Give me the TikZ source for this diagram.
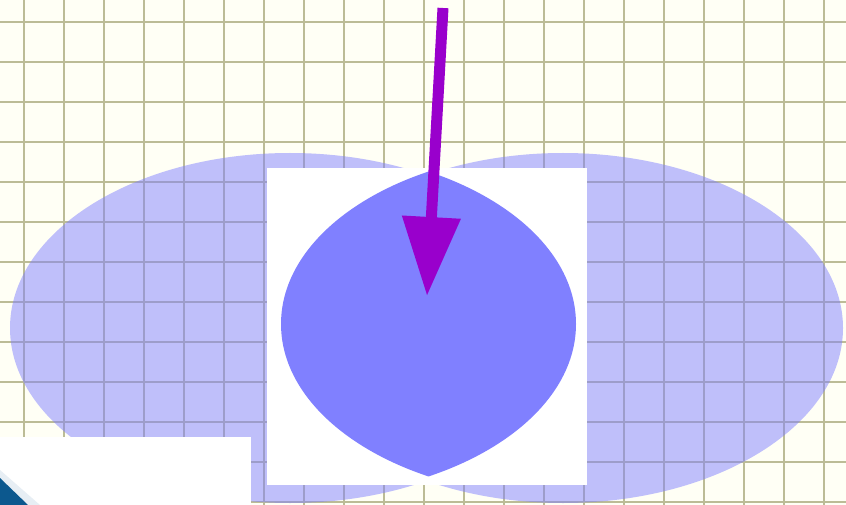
\documentclass[tikz,border=0pt]{standalone}
\usetikzlibrary{arrows.meta}
\definecolor{paper}{RGB}{255,255,245}
\definecolor{gridcol}{RGB}{188,188,150}
\definecolor{ellcol}{RGB}{128,128,255}
\definecolor{lenscol}{RGB}{128,128,255}
\definecolor{arrowcol}{RGB}{153,0,204}
\definecolor{cornercol}{RGB}{12,88,142}
\tikzset{
  gridline/.style={draw=gridcol, line width=2pt},
  ellfill/.style={fill=ellcol, fill opacity=0.5},
  bigarrow/.style={draw=arrowcol, line width=11pt, -{Triangle[width=56pt,length=79pt]}},
}
\begin{document}
\begin{tikzpicture}[x=1pt,y=-1pt]
\useasboundingbox (0,0) rectangle (846,505);
% paper background
\fill[paper] (0,0) rectangle (846,505);
% grid
\foreach \gx in {24,64,...,824} { \draw[gridline] (\gx,0) -- (\gx,505); }
\foreach \gy in {22,62,...,502} { \draw[gridline] (0,\gy) -- (846,\gy); }
% two translucent ellipses
\fill[ellfill] (290,328) ellipse [x radius=280pt, y radius=175pt];
\fill[ellfill] (563,328) ellipse [x radius=280pt, y radius=175pt];
% white picture frame
\fill[white] (267,168) rectangle (587,485);
% lens = intersection of two ellipses
\begin{scope}
  \clip (296,324) ellipse [x radius=280pt, y radius=173pt];
  \fill[lenscol] (561,324) ellipse [x radius=280pt, y radius=173pt];
\end{scope}
% arrow
\coordinate (astart) at (443,8);
\coordinate (aend) at (427,296);
\draw[bigarrow] (astart) -- (aend);
% bottom-left white box and corner
\fill[white] (0,437) rectangle (251,505);
\fill[cornercol!10] (0,470) -- (0,478) -- (28,505) -- (40,505) -- cycle;
\fill[cornercol] (0,478) -- (0,505) -- (28,505) -- cycle;
\end{tikzpicture}
\end{document}
